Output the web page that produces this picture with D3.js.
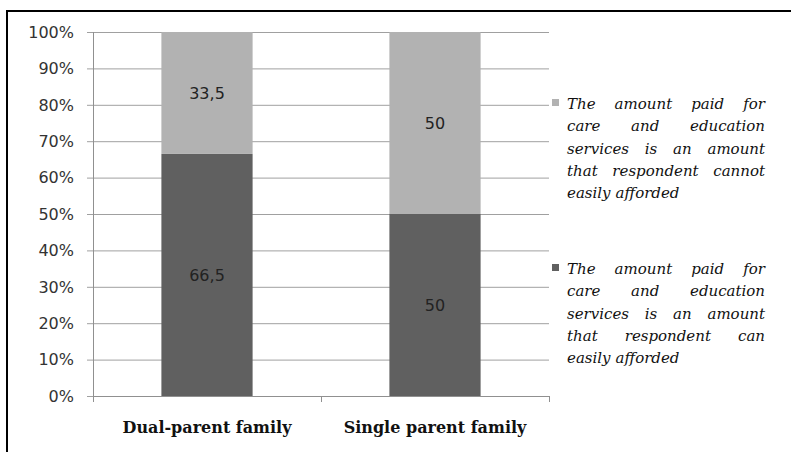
<!DOCTYPE html>
<html>
<head>
<meta charset="utf-8">
<script src="https://cdn.jsdelivr.net/npm/d3@7"></script>
<style>
  body { margin: 0; background: #fff; }
</style>
</head>
<body>
<div id="chart"></div>
<script>
// data
var categories = ["Dual-parent family", "Single parent family"];
var canAfford = [66.5, 50];
var cannotAfford = [33.5, 50];
var canLabels = ["66,5", "50"];
var cannotLabels = ["33,5", "50"];
var yTicks = [0, 10, 20, 30, 40, 50, 60, 70, 80, 90, 100];
var legendCannot = ["The amount paid for", "care and education", "services is an amount", "that respondent cannot", "easily afforded"];
var legendCan = ["The amount paid for", "care and education", "services is an amount", "that respondent can", "easily afforded"];

var width = 791, height = 452;
var svg = d3.select("#chart").append("svg").attr("width", width).attr("height", height);

// outer frame (only top and left show in the picture)
svg.append("rect").attr("x", 7).attr("y", 11).attr("width", 820).attr("height", 500)
  .attr("fill", "none").attr("stroke", "#000").attr("stroke-width", 2);

var x = d3.scaleBand().domain(categories).range([93, 549]).paddingInner(0.6).paddingOuter(0.3);
var y = d3.scaleLinear().domain([0, 100]).range([396, 32]);

// gridlines + y ticks
svg.append("g").selectAll("line").data(yTicks).enter().append("line")
  .attr("x1", 87).attr("x2", 549)
  .attr("y1", function (d) { return y(d) + 0.5; }).attr("y2", function (d) { return y(d) + 0.5; })
  .attr("stroke", "#a0a0a0").attr("stroke-width", 1);

svg.append("g").selectAll("text").data(yTicks).enter().append("text")
  .attr("x", 74).attr("y", function (d) { return y(d); }).attr("dy", "0.36em")
  .attr("text-anchor", "end")
  .style("font-family", "DejaVu Sans").style("font-size", "16px").attr("fill", "#333")
  .text(function (d) { return d + "%"; });

// y axis line
svg.append("line").attr("x1", 93.5).attr("x2", 93.5).attr("y1", y(100)).attr("y2", y(0) + 1)
  .attr("stroke", "#909090");

// stacked bars
var rows = categories.map(function (c, i) { return { cat: c, can: canAfford[i], cannot: cannotAfford[i], i: i }; });

svg.append("g").selectAll("rect").data(rows).enter().append("rect")
  .attr("x", function (d) { return x(d.cat); }).attr("width", x.bandwidth())
  .attr("y", function (d) { return y(d.can); }).attr("height", function (d) { return y(0) - y(d.can); })
  .attr("fill", "#606060");

svg.append("g").selectAll("rect").data(rows).enter().append("rect")
  .attr("x", function (d) { return x(d.cat); }).attr("width", x.bandwidth())
  .attr("y", function (d) { return y(d.can + d.cannot); }).attr("height", function (d) { return y(d.can) - y(d.can + d.cannot); })
  .attr("fill", "#b2b2b2");

// x axis
svg.append("line").attr("x1", 93).attr("x2", 549).attr("y1", y(0) + 0.5).attr("y2", y(0) + 0.5)
  .attr("stroke", "#909090");
var xTicks = [93, 93 + x.step(), 93 + 2 * x.step()];
svg.append("g").selectAll("line").data(xTicks).enter().append("line")
  .attr("x1", function (d) { return d + 0.5; }).attr("x2", function (d) { return d + 0.5; })
  .attr("y1", y(0)).attr("y2", y(0) + 6).attr("stroke", "#909090");

svg.append("g").selectAll("text").data(categories).enter().append("text")
  .attr("x", function (d) { return x(d) + x.bandwidth() / 2; }).attr("y", 433)
  .attr("text-anchor", "middle")
  .style("font-family", "DejaVu Serif").style("font-weight", "bold").style("font-size", "16px")
  .attr("fill", "#111")
  .text(function (d) { return d; });

// data labels
var labelStyle = function (sel) {
  sel.attr("text-anchor", "middle").attr("dy", "0.36em")
    .style("font-family", "DejaVu Sans").style("font-size", "16px").attr("fill", "#222");
};
svg.append("g").selectAll("text").data(rows).enter().append("text")
  .attr("x", function (d) { return x(d.cat) + x.bandwidth() / 2; })
  .attr("y", function (d) { return y(d.can / 2); })
  .call(labelStyle).text(function (d) { return canLabels[d.i]; });
svg.append("g").selectAll("text").data(rows).enter().append("text")
  .attr("x", function (d) { return x(d.cat) + x.bandwidth() / 2; })
  .attr("y", function (d) { return y(d.can + d.cannot / 2); })
  .call(labelStyle).text(function (d) { return cannotLabels[d.i]; });

// legend with justified lines
function legendBlock(lines, top, color) {
  var g = svg.append("g");
  g.append("rect").attr("x", 552).attr("y", top - 5).attr("width", 7).attr("height", 7).attr("fill", color);
  var left = 567, right = 765, lh = 22.2;
  lines.forEach(function (line, li) {
    var words = line.split(" ");
    var yy = top + li * lh;
    var nodes = words.map(function (w) {
      return g.append("text").attr("y", yy).attr("dy", "0.35em")
        .style("font-family", "DejaVu Serif").style("font-style", "italic").style("font-size", "15px")
        .attr("fill", "#111").text(w);
    });
    var widths = nodes.map(function (n) { return n.node().getComputedTextLength(); });
    var total = d3.sum(widths);
    var gap = (li < lines.length - 1 && words.length > 1) ? (right - left - total) / (words.length - 1) : 5;
    var cx = left;
    nodes.forEach(function (n, k) { n.attr("x", cx); cx += widths[k] + gap; });
  });
}
legendBlock(legendCannot, 104, "#b2b2b2");
legendBlock(legendCan, 269, "#606060");
</script>
</body>
</html>
